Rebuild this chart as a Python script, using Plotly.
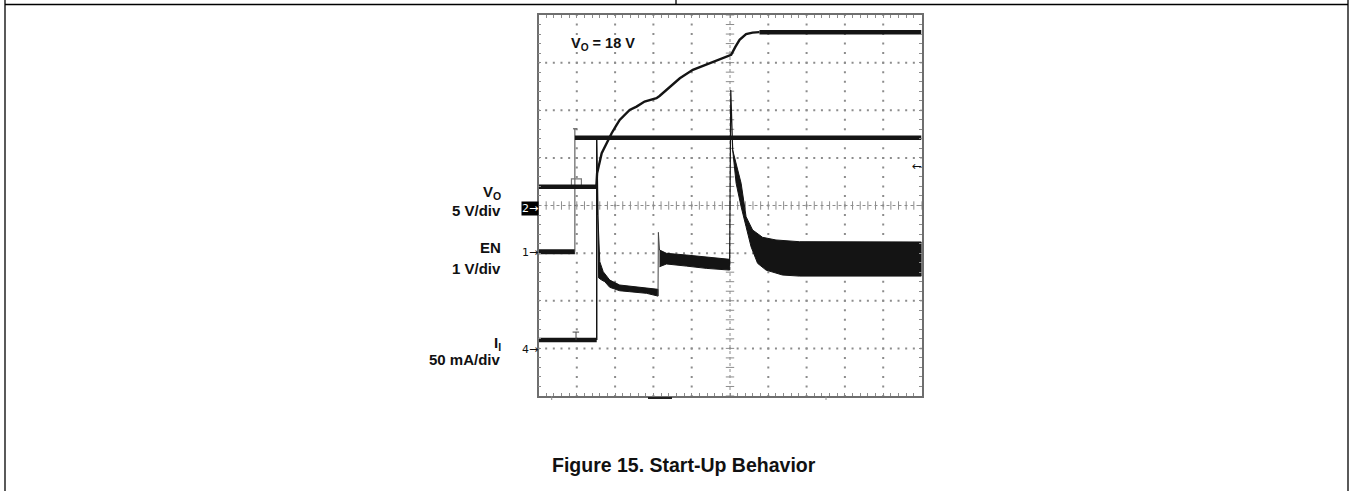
import plotly.graph_objects as go

# ---------------- data (time axis in screen divisions, 10 div full scale) ----------------
# Channel 2: V_O in volts (5 V/div)
vo_t = [0.00, 1.51, 1.53, 1.65, 1.82, 1.91, 2.04, 2.12, 2.38, 2.56, 2.77, 2.95, 3.08, 3.16,
        3.34, 3.69, 4.03, 4.47, 4.90, 5.03, 5.14, 5.25, 5.42, 5.59, 5.77, 10.00]
vo_v = [1.97, 1.97, 3.38, 5.49, 6.88, 7.59, 8.46, 8.98, 10.03, 10.38, 10.91, 11.10, 11.26, 11.50,
        12.13, 13.36, 14.24, 14.94, 15.63, 15.81, 16.65, 17.39, 17.99, 18.15, 18.20, 18.20]
vo_glitch_t = [0.86, 0.86, 1.12, 1.12]
vo_glitch_v = [1.97, 2.80, 2.80, 1.97]

# Channel 1: EN in volts (1 V/div)
en_low_t = [0.00, 0.95]
en_low_v = [0.00, 0.00]
en_edge_t = [0.95, 0.95]
en_edge_v = [0.00, 2.58]
en_cap_t = [0.90, 1.00]
en_cap_v = [2.58, 2.58]
en_high_t = [0.95, 10.00]
en_high_v = [2.39, 2.39]

# Channel 4: input current I_I in mA (50 mA/div)
ii_low_t = [0.00, 1.52]
ii_low_v = [9.7, 9.7]
ii_mark_t = [0.98, 0.98]
ii_mark_v = [9.7, 18.1]
ii_cap_t = [0.89, 1.06]
ii_cap_v = [18.1, 18.1]
ii_rise_t = [1.52, 1.52, 1.55]
ii_rise_v = [9.7, 219.8, 141.0]
# band after first start-up (upper / lower envelope)
ii_a_up_t = [1.55, 1.60, 1.69, 1.86, 2.12, 2.38, 2.82, 3.12]
ii_a_up_v = [141.0, 92.0, 81.5, 72.7, 67.5, 66.4, 64.0, 63.0]
ii_a_lo_t = [1.55, 1.57, 1.65, 1.73, 1.86, 2.12, 2.38, 2.82, 3.12]
ii_a_lo_v = [141.0, 75.0, 72.7, 71.0, 65.1, 61.5, 60.5, 58.8, 55.9]
ii_step_t = [3.12, 3.13, 3.16]
ii_step_v = [55.9, 122.8, 104.3]
ii_b_up_t = [3.16, 3.34, 3.86, 4.38, 4.99]
ii_b_up_v = [104.3, 100.8, 99.0, 96.6, 94.5]
ii_b_lo_t = [3.16, 3.34, 3.86, 4.38, 4.99]
ii_b_lo_v = [86.7, 89.6, 87.4, 85.0, 83.2]
ii_spike_t = [4.99, 5.02, 5.07]
ii_spike_v = [88.0, 272.3, 209.3]
ii_c_up_t = [5.07, 5.29, 5.42, 5.59, 5.85, 6.20, 6.81, 10.00]
ii_c_up_v = [209.3, 174.3, 139.2, 125.3, 117.6, 114.8, 113.0, 112.7]
ii_c_lo_t = [5.07, 5.16, 5.29, 5.42, 5.55, 5.72, 5.94, 6.37, 6.81, 10.00]
ii_c_lo_v = [209.3, 174.3, 149.7, 128.7, 107.7, 90.3, 83.2, 78.0, 76.9, 76.9]

# channel scale (units/div) and ground offset (div from screen centre)
VO_SCALE, VO_OFF = 5.0, 0.0
EN_SCALE, EN_OFF = 1.0, -0.97
II_SCALE, II_OFF = 50.0, -3.02

# ---------------- layout geometry (pixels) ----------------
W, H = 1351, 491
L, R, T, B = 538.5, 921.5, 15.0, 396.0
NX, NY = 10, 8


def px(x):
    return x / W


def py(y):
    return 1 - y / H


def div(vals, scale, off):
    return [v / scale + off for v in vals]


TRACE = "#141414"
GRID = "#8c8c8c"
FONT = "Liberation Sans, Arial, Helvetica, sans-serif"
ARROWFONT = "DejaVu Sans, Liberation Sans, sans-serif"

fig = go.Figure()

# graticule dots
gx, gy = [], []
for i in range(1, NX):
    if i == NX // 2:
        continue
    for k in range(NY * 5 + 1):
        gx.append(i)
        gy.append(-NY / 2 + k * 0.2)
for j in range(1, NY):
    yy = -NY / 2 + j
    if yy == 0:
        continue
    for k in range(NX * 5 + 1):
        gx.append(k * 0.2)
        gy.append(yy)
fig.add_trace(go.Scatter(x=gx, y=gy, mode="markers",
                         marker=dict(symbol="square", size=2, color=GRID, line=dict(width=0)),
                         hoverinfo="skip"))

# centre cross with minor ticks
cx_ticks = [k * 0.2 for k in range(NX * 5 + 1)]
cy_ticks = [-NY / 2 + k * 0.2 for k in range(NY * 5 + 1)]
fig.add_trace(go.Scatter(x=[0, NX], y=[0, 0], mode="lines",
                         line=dict(color=GRID, width=1, dash="dot"), hoverinfo="skip"))
fig.add_trace(go.Scatter(x=[NX / 2, NX / 2], y=[-NY / 2, NY / 2], mode="lines",
                         line=dict(color=GRID, width=1, dash="dot"), hoverinfo="skip"))
fig.add_trace(go.Scatter(x=cx_ticks, y=[0] * len(cx_ticks), mode="markers",
                         marker=dict(symbol="line-ns", size=6, color=GRID,
                                     line=dict(width=1, color=GRID)), hoverinfo="skip"))
fig.add_trace(go.Scatter(x=[NX / 2] * len(cy_ticks), y=cy_ticks, mode="markers",
                         marker=dict(symbol="line-ew", size=6, color=GRID,
                                     line=dict(width=1, color=GRID)), hoverinfo="skip"))


def line(t, v, scale, off, width, color=TRACE):
    fig.add_trace(go.Scatter(x=t, y=div(v, scale, off), mode="lines",
                             line=dict(color=color, width=width), hoverinfo="skip"))


def band(t_up, v_up, t_lo, v_lo, scale, off):
    xs = t_up + t_lo[::-1]
    ys = div(v_up, scale, off) + div(v_lo, scale, off)[::-1]
    fig.add_trace(go.Scatter(x=xs, y=ys, mode="lines", fill="toself", fillcolor=TRACE,
                             line=dict(color=TRACE, width=1), hoverinfo="skip"))


# EN
line(en_low_t, en_low_v, EN_SCALE, EN_OFF, 5)
line(en_edge_t, en_edge_v, EN_SCALE, EN_OFF, 1, "#444")
line(en_cap_t, en_cap_v, EN_SCALE, EN_OFF, 1, "#444")
line(en_high_t, en_high_v, EN_SCALE, EN_OFF, 4.5)

# I_I
line(ii_low_t, ii_low_v, II_SCALE, II_OFF, 4.5)
line(ii_mark_t, ii_mark_v, II_SCALE, II_OFF, 1, "#444")
line(ii_cap_t, ii_cap_v, II_SCALE, II_OFF, 1, "#444")
line(ii_rise_t, ii_rise_v, II_SCALE, II_OFF, 1.5)
band(ii_a_up_t, ii_a_up_v, ii_a_lo_t, ii_a_lo_v, II_SCALE, II_OFF)
line(ii_step_t, ii_step_v, II_SCALE, II_OFF, 1, "#444")
band(ii_b_up_t, ii_b_up_v, ii_b_lo_t, ii_b_lo_v, II_SCALE, II_OFF)
line(ii_spike_t, ii_spike_v, II_SCALE, II_OFF, 1.2)
band(ii_c_up_t, ii_c_up_v, ii_c_lo_t, ii_c_lo_v, II_SCALE, II_OFF)

# V_O
line(vo_glitch_t, vo_glitch_v, VO_SCALE, VO_OFF, 1.2, "#777")
line(vo_t[:2], vo_v[:2], VO_SCALE, VO_OFF, 4.5)
line(vo_t[1:-1], vo_v[1:-1], VO_SCALE, VO_OFF, 2.4)
line(vo_t[-2:], vo_v[-2:], VO_SCALE, VO_OFF, 4.5)

ax_common = dict(showgrid=False, zeroline=False, showticklabels=False,
                 showline=True, linecolor="#6e6e6e", linewidth=1.5, mirror="ticks",
                 ticks="inside", ticklen=3, tickcolor=GRID, tickwidth=1, dtick=0.2, tick0=0,
                 fixedrange=True)
fig.update_layout(
    width=W, height=H, margin=dict(l=0, r=0, t=0, b=0),
    paper_bgcolor="white", plot_bgcolor="white", showlegend=False,
    xaxis=dict(domain=[px(L), px(R)], range=[0, NX], **ax_common),
    yaxis=dict(domain=[py(B), py(T)], range=[-NY / 2, NY / 2], **ax_common),
)

# page frame
frame = dict(type="line", xref="paper", yref="paper", line=dict(color="black", width=1.3))
fig.add_shape(x0=px(5), x1=px(5), y0=py(0), y1=py(H), **frame)
fig.add_shape(x0=px(1348), x1=px(1348), y0=py(0), y1=py(H), **frame)
fig.add_shape(x0=px(5), x1=px(1348), y0=py(4.5), y1=py(4.5), **frame)
fig.add_shape(x0=px(676), x1=px(676), y0=py(0), y1=py(4.5), **frame)

# small scope markers below the graticule
fig.add_shape(type="rect", xref="paper", yref="paper", x0=px(648), x1=px(672),
              y0=py(399), y1=py(397), fillcolor="#222", line=dict(width=0))
for xm in (551.7, 826):
    fig.add_shape(type="line", xref="paper", yref="paper", x0=px(xm), x1=px(xm),
                  y0=py(396), y1=py(400), line=dict(color=GRID, width=1))


def label(text, x, y, size=15, xanchor="right", color="#111", family=FONT, **kw):
    fig.add_annotation(text=text, x=px(x), y=py(y), xref="paper", yref="paper",
                       xanchor=xanchor, yanchor="middle", showarrow=False,
                       font=dict(family=family, size=size, color=color), **kw)


label("<b>V<sub>O</sub> = 18 V</b>", 569, 44, size=14.5, xanchor="left")
label("<b>V<sub>O</sub></b>", 503, 192)
label("<b>5 V/div</b>", 503, 210)
label("<b>EN</b>", 503, 247.5)
label("<b>1 V/div</b>", 503, 268)
label("<b>I<sub>I</sub></b>", 503, 343)
label("<b>50 mA/div</b>", 503, 359)

label("2→", 530, 208, size=11, xanchor="center", color="white", bgcolor="black",
      borderpad=0, family=ARROWFONT)
label("1→", 530, 252, size=11, xanchor="center", family=ARROWFONT)
label("4→", 530, 349, size=11, xanchor="center", family=ARROWFONT)
label("←", 917, 166, size=12, xanchor="center", family=ARROWFONT)

label("<b>Figure 15. Start-Up Behavior</b>", 683.5, 465, size=19.5, xanchor="center")

fig.write_html("out.html", config={"displayModeBar": False},
               post_script="document.body.style.margin='0';document.body.style.overflow='hidden';")
